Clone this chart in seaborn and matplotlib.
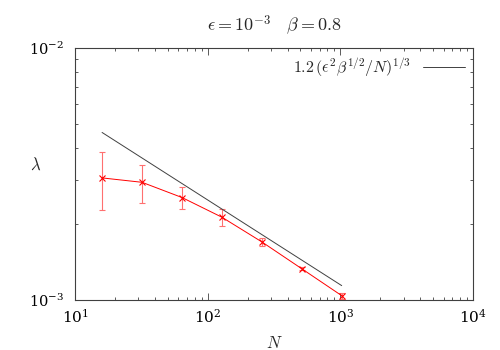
import numpy as np
import pandas as pd
import seaborn as sns
import matplotlib.pyplot as plt
from matplotlib.ticker import LogLocator, NullFormatter

sns.set_style("ticks")
plt.rcParams['mathtext.fontset'] = 'cm'
plt.rcParams['font.family'] = ['DejaVu Serif']

# measured lambda vs N
N = [16, 32, 64, 128, 256, 512, 1024]
lam = [3.05e-3, 2.93e-3, 2.55e-3, 2.13e-3, 1.70e-3, 1.33e-3, 1.04e-3]
lam_lo = [2.28e-3, 2.42e-3, 2.29e-3, 1.97e-3, 1.64e-3, 1.31e-3, 1.01e-3]
lam_hi = [3.85e-3, 3.44e-3, 2.80e-3, 2.29e-3, 1.76e-3, 1.35e-3, 1.07e-3]

# scaling law line, end points
fit_N = [16, 1024]
fit_lam = [4.62e-3, 1.14e-3]

df = pd.DataFrame({'N': N, 'lam': lam})
df_fit = pd.DataFrame({'N': fit_N, 'lam': fit_lam})

fig = plt.figure(figsize=(5, 3.5), dpi=100)
ax = fig.add_axes([0.15, 0.143, 0.796, 0.72])

err = [np.array(lam) - np.array(lam_lo), np.array(lam_hi) - np.array(lam)]
ax.errorbar(N, lam, yerr=err, fmt='none', ecolor='#ff7070', elinewidth=0.8, capsize=2.5, capthick=0.8)
sns.lineplot(data=df, x='N', y='lam', ax=ax, color='#ff0000', lw=0.7, marker='x', markersize=4,
             markeredgewidth=0.8, markeredgecolor='#ff0000', label='_nolegend_')
sns.lineplot(data=df_fit, x='N', y='lam', ax=ax, color='#404040', lw=0.7,
             label=r'$1.2\,(\epsilon^2\beta^{1/2}/N)^{1/3}$')

ax.set_xscale('log')
ax.set_yscale('log')
ax.set_xlim(10, 1e4)
ax.set_ylim(1e-3, 1e-2)
ax.yaxis.set_minor_formatter(NullFormatter())
ax.xaxis.set_minor_locator(LogLocator(base=10, subs=np.arange(2, 10)))
ax.yaxis.set_minor_locator(LogLocator(base=10, subs=np.arange(2, 10)))
ax.tick_params(which='both', direction='in', top=True, right=True, colors='#404040', labelcolor='black', labelsize=11)
ax.tick_params(which='major', length=5, width=0.6)
ax.tick_params(which='minor', length=2.5, width=0.6)
ax.tick_params(axis='x', pad=6)
ax.tick_params(axis='y', pad=8, labelsize=10.5)
for s in ax.spines.values():
    s.set_color('#404040')
    s.set_linewidth(0.8)

ax.set_xlabel(r'$N$', fontsize=12, labelpad=6)
ax.set_ylabel(r'$\lambda$', fontsize=12, rotation=0)
ax.yaxis.set_label_coords(-0.1, 0.5)
ax.set_title(r'$\epsilon = 10^{-3} \quad \beta = 0.8$', fontsize=13, pad=12)
ax.legend(loc='upper right', frameon=False, markerfirst=False, fontsize=11.5,
          handlelength=2.6, borderaxespad=0.1, handletextpad=0.8)

fig.savefig('out.png', dpi=100)
